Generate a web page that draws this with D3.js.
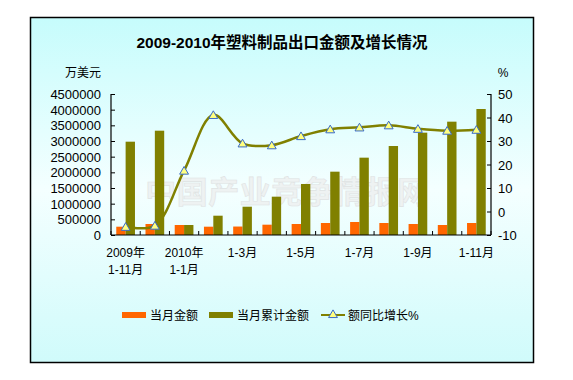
<!DOCTYPE html>
<html>
<head>
<meta charset="utf-8">
<script src="https://cdn.jsdelivr.net/npm/d3@7"></script>
<style>
  body { margin: 0; background: #fff; }
  svg { display: block; font-family: "Liberation Sans", Arial, "Noto Sans CJK SC", sans-serif; }
</style>
</head>
<body>
<div id="chart"></div>
<script>
// data
const categories = ["2009年1-11月", "2009年1-12月", "2010年1-1月", "1-2月", "1-3月", "1-4月", "1-5月",
  "1-6月", "1-7月", "1-8月", "1-9月", "1-10月", "1-11月"];
const tickLabels = [["2009年", "1-11月"], null, ["2010年", "1-1月"], null, ["1-3月"], null, ["1-5月"],
  null, ["1-7月"], null, ["1-9月"], null, ["1-11月"]];
const monthValues = [265000, 351000, 319000, 265000, 270000, 329000, 351000, 383000, 415000, 383000, 351000, 319000, 383000];
const cumValues = [2978000, 3329000, 319000, 616000, 903000, 1223000, 1628000, 2021000, 2468000, 2840000, 3266000, 3617000, 4021000];
const growth = [-6.5, -6.0, 17.4, 41.1, 29.0, 28.2, 32.1, 35.0, 35.8, 36.7, 35.2, 34.4, 34.8];
const leftTicks = d3.range(0, 4500001, 500000);
const rightTicks = d3.range(-10, 51, 10);

const width = 573, height = 380;
const plot = { left: 111, right: 491, top: 94, bottom: 235 };
const orange = "#ff6600", olive = "#808000";

const svg = d3.select("#chart")
  .append("svg")
  .attr("width", width)
  .attr("height", height);

// background gradient
const grad = svg.append("defs").append("linearGradient")
  .attr("id", "bg").attr("x1", 0).attr("y1", 0).attr("x2", 0).attr("y2", 1);
grad.append("stop").attr("offset", "0%").attr("stop-color", "#c6fcfc");
grad.append("stop").attr("offset", "50%").attr("stop-color", "#f4ffff");
grad.append("stop").attr("offset", "100%").attr("stop-color", "#d0fbfb");

svg.append("rect")
  .attr("x", 30.5).attr("y", 17.5)
  .attr("width", 503).attr("height", 345)
  .attr("fill", "url(#bg)")
  .attr("stroke", "#000")
  .attr("stroke-width", 1.5);

// title
svg.append("text")
  .attr("x", 282).attr("y", 48)
  .attr("text-anchor", "middle")
  .attr("font-size", "15.5px")
  .attr("font-weight", "bold")
  .text("2009-2010年塑料制品出口金额及增长情况");

// watermark
svg.append("text")
  .attr("x", 287).attr("y", 203)
  .attr("text-anchor", "middle")
  .attr("font-family", "'Noto Sans CJK SC'")
  .attr("font-weight", "bold")
  .attr("font-size", "31px")
  .attr("fill", "#eef2f2")
  .attr("stroke", "#dfe3e3")
  .attr("stroke-width", 0.6)
  .attr("letter-spacing", "0.5px")
  .text("中国产业竞争情报网");

// scales
const x = d3.scaleBand()
  .domain(categories)
  .range([plot.left, plot.right])
  .paddingInner(0.36)
  .paddingOuter(0.18);
const yL = d3.scaleLinear().domain([0, 4500000]).range([plot.bottom, plot.top]);
const yR = d3.scaleLinear().domain([-10, 50]).range([plot.bottom, plot.top]);
const bw = x.bandwidth() / 2;

// bars
svg.append("g").selectAll("rect")
  .data(categories)
  .join("rect")
  .attr("x", d => x(d))
  .attr("y", (d, i) => yL(monthValues[i]))
  .attr("width", bw)
  .attr("height", (d, i) => yL(0) - yL(monthValues[i]))
  .attr("fill", orange);

svg.append("g").selectAll("rect")
  .data(categories)
  .join("rect")
  .attr("x", d => x(d) + bw)
  .attr("y", (d, i) => yL(cumValues[i]))
  .attr("width", bw)
  .attr("height", (d, i) => yL(0) - yL(cumValues[i]))
  .attr("fill", olive);

// growth line
const cx = d => x(d) + x.bandwidth() / 2;
const line = d3.line()
  .x(d => cx(d))
  .y((d, i) => yR(growth[i]))
  .curve(d3.curveCatmullRom.alpha(0.5));
svg.append("path")
  .datum(categories)
  .attr("d", line)
  .attr("fill", "none")
  .attr("stroke", olive)
  .attr("stroke-width", 2.5);

const tri = d3.symbol().type(d3.symbolTriangle).size(34);
svg.append("g").selectAll("path")
  .data(categories)
  .join("path")
  .attr("d", tri)
  .attr("transform", (d, i) => `translate(${cx(d)},${yR(growth[i]) + 1})`)
  .attr("fill", "#ffff80")
  .attr("stroke", "#3a6ac8")
  .attr("stroke-width", 1);

// axes
const axL = svg.append("g")
  .attr("transform", `translate(${plot.left},0)`)
  .call(d3.axisRight(yL).tickValues(leftTicks).tickSize(4).tickFormat(""));
const axR = svg.append("g")
  .attr("transform", `translate(${plot.right},0)`)
  .call(d3.axisLeft(yR).tickValues(rightTicks).tickSize(4).tickFormat(""));
[axL, axR].forEach(a => {
  a.select(".domain").attr("stroke", "#000").attr("stroke-width", 1.2).attr("d", `M0,${plot.top}V${plot.bottom}`);
  a.selectAll("line").attr("stroke", "#000");
});

svg.append("g").selectAll("text")
  .data(leftTicks)
  .join("text")
  .attr("x", 101).attr("y", d => yL(d) + 5)
  .attr("text-anchor", "end")
  .attr("font-size", "13px")
  .text(d => d);

svg.append("g").selectAll("text")
  .data(rightTicks)
  .join("text")
  .attr("x", 498).attr("y", d => yR(d) + 5)
  .attr("font-size", "13px")
  .text(d => d);

svg.append("text").attr("x", 83).attr("y", 77).attr("text-anchor", "middle")
  .attr("font-size", "12px").text("万美元");
svg.append("text").attr("x", 503).attr("y", 77).attr("text-anchor", "middle")
  .attr("font-size", "12px").text("%");

// x axis
const step = x.step();
const xAxis = svg.append("g").attr("transform", `translate(0,${plot.bottom})`);
xAxis.append("line")
  .attr("x1", plot.left).attr("x2", plot.right)
  .attr("stroke", "#000").attr("stroke-width", 1.2);
xAxis.selectAll("line.tick")
  .data(d3.range(categories.length + 1))
  .join("line")
  .attr("class", "tick")
  .attr("x1", i => x(categories[0]) - x.paddingOuter() * step + i * step)
  .attr("x2", i => x(categories[0]) - x.paddingOuter() * step + i * step)
  .attr("y1", 0).attr("y2", -4)
  .attr("stroke", "#000");

svg.append("g").selectAll("text")
  .data(categories.filter((d, i) => tickLabels[i]))
  .join("text")
  .attr("text-anchor", "middle")
  .attr("font-size", "12px")
  .each(function (d) {
    const lines = tickLabels[categories.indexOf(d)];
    d3.select(this).selectAll("tspan")
      .data(lines)
      .join("tspan")
      .attr("x", cx(d))
      .attr("y", (t, j) => 257 + j * 17)
      .text(t => t);
  });

// legend
const legend = svg.append("g").attr("font-size", "12px");
legend.append("rect").attr("x", 122).attr("y", 312).attr("width", 24).attr("height", 6).attr("fill", orange);
legend.append("text").attr("x", 150).attr("y", 319.5).text("当月金额");
legend.append("rect").attr("x", 209).attr("y", 312).attr("width", 24).attr("height", 6).attr("fill", olive);
legend.append("text").attr("x", 237).attr("y", 319.5).text("当月累计金额");
legend.append("line").attr("x1", 321).attr("x2", 345).attr("y1", 315).attr("y2", 315)
  .attr("stroke", olive).attr("stroke-width", 2);
legend.append("path").attr("d", tri).attr("transform", "translate(333,315)")
  .attr("fill", "#ffff80").attr("stroke", "#3a6ac8");
legend.append("text").attr("x", 348).attr("y", 319.5).text("额同比增长%");
</script>
</body>
</html>
